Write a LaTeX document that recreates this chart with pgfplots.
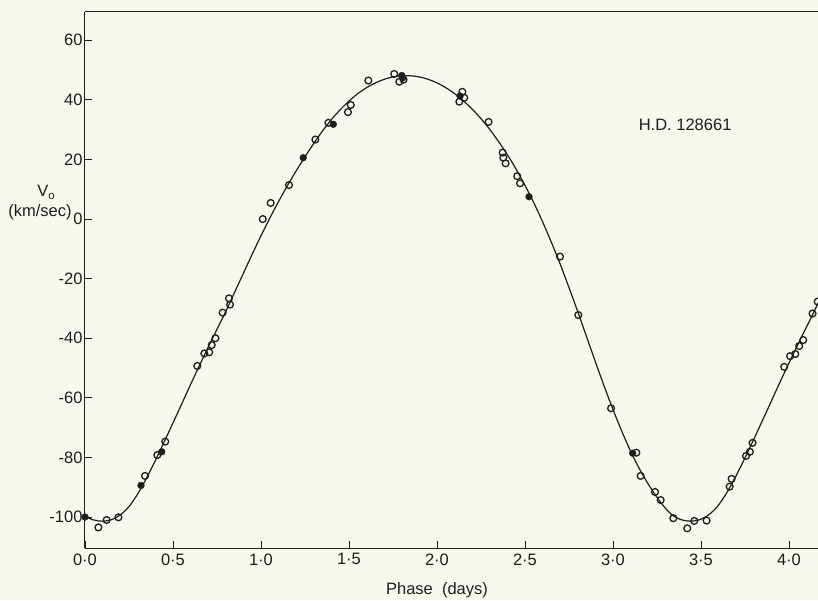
\documentclass[border=0pt]{standalone}
\usepackage{fontspec}
\setmainfont{Liberation Sans}
\usepackage{pgfplots}
\pgfplotsset{compat=1.18}
\definecolor{bg}{RGB}{247,248,238}
\definecolor{ink}{RGB}{30,30,28}
\begin{document}
\begin{tikzpicture}
\fill[bg] (-85pt,-52pt) rectangle (733pt,548pt);
\useasboundingbox (-85pt,-52pt) rectangle (733pt,548pt);
\begin{axis}[
  scale only axis, width=733pt, height=536pt,
  at={(0pt,0pt)}, anchor=south west,
  xmin=0, xmax=4.165, ymin=-110.4, ymax=69.5,
  axis x line=box, axis y line=left,
  axis line style={-, ink, line width=1pt},
  every outer y axis line/.append style={-},
  every outer x axis line/.append style={-},
  xtick={0,0.5,1,1.5,2,2.5,3,3.5,4},
  xticklabels={0·0,0·5,1·0,1·5,2·0,2·5,3·0,3·5,4·0},
  ytick={-100,-80,-60,-40,-20,0,20,40,60},
  yticklabels={-100,-80,-60,-40,-20,0,20,40,60},
  xtick pos=bottom, ytick pos=left,
  tick align=inside, major tick length=7pt,
  tick style={ink, line width=0.9pt},
  ticklabel style={font=\fontsize{16.5}{19}\selectfont, text=ink},
  xticklabel style={yshift=-2pt},
  yticklabel style={xshift=1pt},
  clip mode=individual,
]
% fitted curve
\addplot[ink, line width=1.2pt, smooth] coordinates {
(0.00,-99.8) (0.05,-101.0) (0.10,-101.4) (0.15,-100.9) (0.20,-99.3) (0.25,-96.5)
(0.30,-92.2) (0.35,-86.9) (0.40,-81.0) (0.45,-74.8) (0.50,-68.4) (0.55,-62.0)
(0.60,-55.5) (0.65,-49.2) (0.70,-43.0) (0.75,-37.0) (0.80,-31.0) (0.85,-24.6)
(0.90,-18.2) (0.95,-11.8) (1.00,-5.6) (1.05,0.3) (1.10,5.9) (1.15,11.2)
(1.20,16.2) (1.25,20.9) (1.30,25.4) (1.35,29.6) (1.40,33.4) (1.45,36.7)
(1.50,39.6) (1.55,42.1) (1.60,44.1) (1.65,45.7) (1.70,46.9) (1.75,47.7)
(1.80,48.1) (1.85,48.1) (1.90,47.7) (1.95,46.9) (2.00,45.7) (2.05,44.1)
(2.10,42.1) (2.15,39.7) (2.20,36.9) (2.25,33.7) (2.30,30.1) (2.35,26.0)
(2.40,21.6) (2.45,16.7) (2.50,11.3) (2.55,5.5) (2.60,-0.9) (2.65,-7.8)
(2.70,-15.1) (2.75,-23.0) (2.80,-31.1) (2.85,-39.5) (2.90,-47.9) (2.95,-56.1)
(3.00,-63.9) (3.05,-71.2) (3.10,-77.9) (3.15,-83.8) (3.20,-88.9) (3.25,-93.4)
(3.30,-97.2) (3.343,-99.6) (3.393,-101.0) (3.443,-101.4) (3.493,-100.9)
(3.543,-99.3) (3.593,-96.5) (3.643,-92.2) (3.693,-86.9) (3.743,-81.0)
(3.793,-74.8) (3.843,-68.4) (3.893,-62.0) (3.943,-55.5) (3.993,-49.2)
(4.043,-43.0) (4.093,-37.0) (4.143,-31.0) (4.193,-24.6)
};
% open circles
\addplot[only marks, mark=o, mark size=3.4pt, ink, mark options={line width=1.3pt}] coordinates {
(0.076,-103.5) (0.123,-101) (0.19,-100.1) (0.341,-86.2) (0.411,-79.2) (0.456,-74.7)
(0.638,-49.3) (0.678,-45.1) (0.706,-44.7) (0.72,-42.3) (0.741,-40) (0.782,-31.4)
(0.818,-26.6) (0.824,-28.7) (1.01,0) (1.055,5.4) (1.159,11.4) (1.309,26.7)
(1.383,32.3) (1.494,35.9) (1.51,38.3) (1.61,46.5) (1.757,48.7) (1.786,46.1)
(1.81,46.8) (2.127,39.4) (2.144,42.7) (2.155,40.7) (2.293,32.6) (2.373,22.3)
(2.377,20.6) (2.39,18.7) (2.456,14.4) (2.472,12) (2.699,-12.6) (2.803,-32.2)
(2.989,-63.5) (3.133,-78.4) (3.157,-86.2) (3.239,-91.6) (3.271,-94.3)
(3.343,-100.4) (3.422,-103.8) (3.462,-101.3) (3.532,-101.2) (3.663,-89.8)
(3.674,-87.2) (3.756,-79.5) (3.778,-78.1) (3.793,-75.1) (3.973,-49.6)
(4.006,-46) (4.036,-45.3) (4.058,-42.6) (4.081,-40.6) (4.134,-31.7) (4.163,-27.7)
};
% filled points
\addplot[only marks, mark=*, mark size=3.4pt, ink] coordinates {
(0,-100) (0.318,-89.4) (0.436,-78.1) (1.24,20.6) (1.411,31.8) (1.805,47.4)
(1.80,48.2) (2.131,41.3) (2.523,7.5) (3.112,-78.6)
};
\node[font=\fontsize{16.5}{19}\selectfont, text=ink] at (axis cs:3.41,31.5) {H.D. 128661};
\node[font=\fontsize{16.5}{19}\selectfont, text=ink] at (axis cs:-0.22,9) {V\textsubscript{o}};
\node[font=\fontsize{16.5}{19}\selectfont, text=ink] at (axis cs:-0.256,2.2) {(km/sec)};
\node[font=\fontsize{16.5}{19}\selectfont, text=ink] at (axis cs:2.0,-110.4) [yshift=-42pt] {Phase\ \ (days)};
\end{axis}
\end{tikzpicture}
\end{document}
